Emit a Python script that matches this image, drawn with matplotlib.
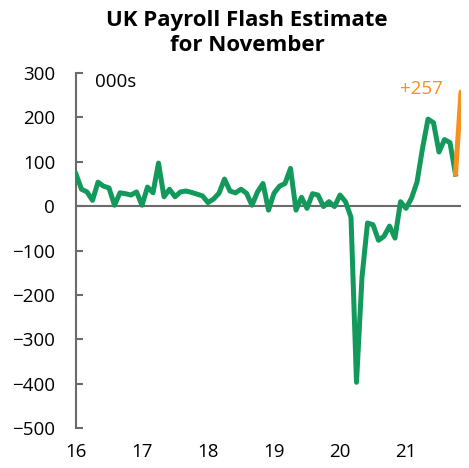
import numpy as np
import matplotlib.pyplot as plt

plt.rcParams['font.family'] = ['Open Sans', 'DejaVu Sans']

# monthly payroll change, 000s, Jan 2016 .. Nov 2021
payroll = [72, 38, 32, 13, 54, 45, 41, 2, 30, 28, 25, 32,
           2, 43, 30, 97, 21, 38, 21, 32, 34, 31, 27, 23,
           8, 16, 29, 61, 34, 30, 38, 29, 2, 32, 51, -9,
           29, 45, 51, 85, -9, 20, -5, 28, 25, -1, 10, -1,
           25, 10, -25, -397, -160, -38, -42, -77, -68, -45, -72, 10,
           -5, 18, 54, 130, 196, 188, 122, 150, 143, 72, 257]
start_year = 16
year_ticks = [16, 17, 18, 19, 20, 21]
y_ticks = [300, 200, 100, 0, -100, -200, -300, -400, -500]

green = '#13995B'
orange = '#F7901E'
grey = '#6b6b6b'

x = start_year + np.arange(len(payroll)) / 12

fig = plt.figure(figsize=(4.69, 4.68), dpi=100)
ax = fig.add_axes([76/469, 1 - 428/468, (461 - 76)/469, (428 - 73)/468])

ax.axhline(0, color=grey, lw=1.5, zorder=1)
ax.plot(x[:-1], payroll[:-1], color=green, lw=3.6, solid_joinstyle='round', zorder=3)
ax.plot(x[-2:], payroll[-2:], color=orange, lw=3.6, solid_capstyle='round', zorder=4)

ax.set_xlim(x[0], x[-1])
ax.set_ylim(-500, 300)
ax.set_yticks(y_ticks)
ax.set_xticks(year_ticks)
ax.set_xticklabels([str(y) for y in year_ticks])

for s in ['top', 'right', 'bottom']:
    ax.spines[s].set_visible(False)
ax.spines['left'].set_color(grey)
ax.spines['left'].set_linewidth(1.5)
ax.tick_params(axis='y', direction='in', length=5, width=1.5, color=grey,
               labelsize=13.5, pad=15)
ax.tick_params(axis='x', length=0, labelsize=13.5, pad=11)

ax.text(95/469, 1 - 82/468, '000s', transform=fig.transFigure, fontsize=13.5,
        va='center', ha='left')
ax.text(443/469, 1 - 89/468, '+' + str(payroll[-1]), transform=fig.transFigure,
        fontsize=13.5, color=orange, va='center', ha='right')

fig.text(247/469, 1 - 33/468, 'UK Payroll Flash Estimate\nfor November',
         ha='center', va='center', fontsize=16, fontweight='bold',
         linespacing=1.3)

plt.savefig('out.png', dpi=100)
